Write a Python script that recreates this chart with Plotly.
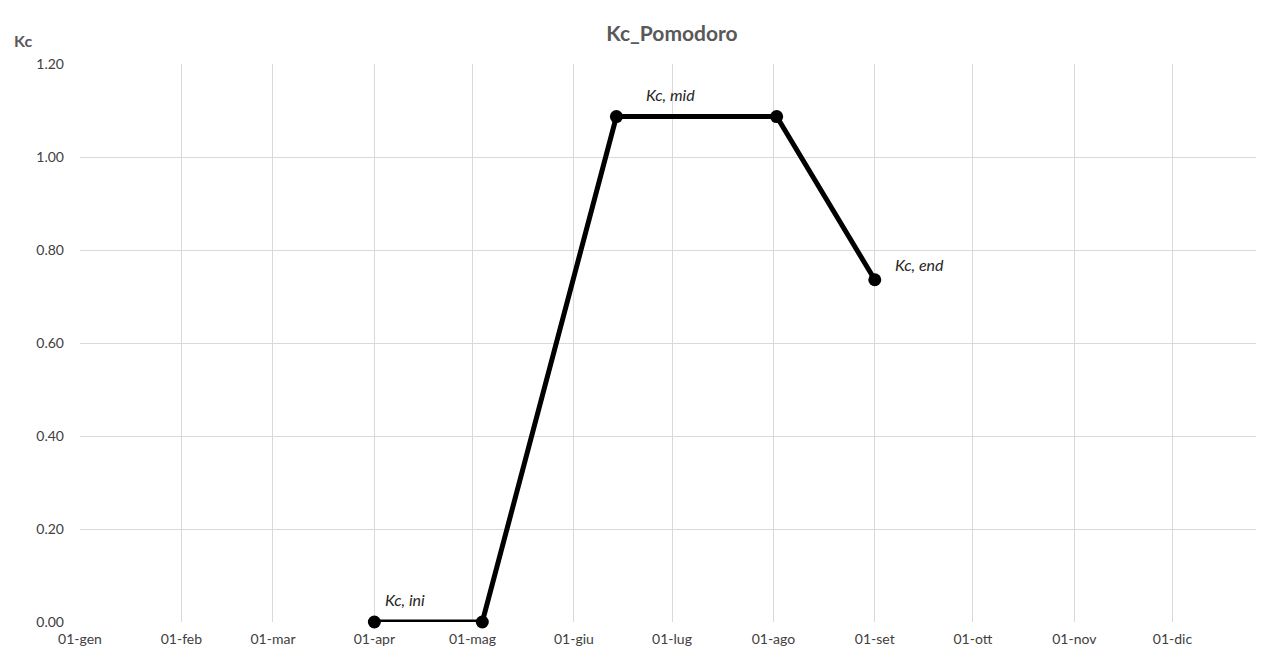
import plotly.graph_objects as go

# Kc curve points (crop coefficient for tomato)
stage_dates = ['2021-04-01', '2021-05-04', '2021-06-14', '2021-08-02', '2021-09-01']
kc_values = [0.0, 0.0, 1.087, 1.087, 0.736]

# stage labels attached to points 0, 2 and 4
label_index = [0, 2, 4]
label_text = ['Kc, ini', 'Kc, mid', 'Kc, end']

# Month ticks (Italian labels)
month_ticks = ['2021-01-01', '2021-02-01', '2021-03-01', '2021-04-01', '2021-05-01', '2021-06-01',
               '2021-07-01', '2021-08-01', '2021-09-01', '2021-10-01', '2021-11-01', '2021-12-01']
month_labels = ['01-gen', '01-feb', '01-mar', '01-apr', '01-mag', '01-giu',
                '01-lug', '01-ago', '01-set', '01-ott', '01-nov', '01-dic']
y_ticks = [0.0, 0.2, 0.4, 0.6, 0.8, 1.0, 1.2]

FONT = 'Lato, Open Sans, sans-serif'


def create_kc_chart():
    """
    Build the Kc curve chart
    """
    fig = go.Figure()

    fig.add_trace(go.Scatter(
        x=stage_dates,
        y=kc_values,
        mode='lines+markers',
        line=dict(color='black', width=5),
        marker=dict(color='black', size=13),
        cliponaxis=False,
        showlegend=False
    ))

    # data labels, offset like the Excel ones
    shifts = [(9, 23), (28, 22), (18, 15)]
    for i, txt, (dx, dy) in zip(label_index, label_text, shifts):
        fig.add_annotation(
            x=stage_dates[i], y=kc_values[i], text=txt,
            showarrow=False, xanchor='left', yanchor='middle',
            xshift=dx, yshift=dy,
            font=dict(family=FONT, size=16, color='#262626', style='italic')
        )

    fig.add_annotation(
        text='<b>Kc</b>', x=-0.0574, y=1.043, xref='paper', yref='paper',
        xanchor='left', yanchor='middle', showarrow=False,
        font=dict(family=FONT, size=16, color='#595959')
    )

    # the page body has an 8px margin, so size/margins are shifted by 8px
    fig.update_layout(
        title=dict(
            text='<b>Kc_Pomodoro</b>',
            x=0.5, xanchor='center', xref='paper',
            y=0.961, yanchor='middle',
            font=dict(family=FONT, size=21, color='#595959')
        ),
        plot_bgcolor='white',
        paper_bgcolor='white',
        width=1256,
        height=646,
        margin={"r": 0, "t": 56, "l": 72, "b": 32},
        font=dict(family=FONT, size=14, color='#404040')
    )

    fig.update_xaxes(
        type='date',
        range=['2021-01-01', '2021-12-29'],
        tickvals=month_ticks,
        ticktext=month_labels,
        showgrid=True,
        gridcolor='#d9d9d9',
        gridwidth=1,
        showline=False,
        zeroline=False,
        ticks='',
        ticklabelstandoff=7,
        automargin=False
    )
    fig.update_yaxes(
        range=[0, 1.2],
        tickvals=y_ticks,
        tickformat='.2f',
        showgrid=True,
        gridcolor='#d9d9d9',
        gridwidth=1,
        zeroline=False,
        showline=False,
        ticks='',
        ticklabelstandoff=15,
        automargin=False
    )
    return fig


def main():
    fig = create_kc_chart()
    fig.write_html('out.html')


if __name__ == "__main__":
    main()
